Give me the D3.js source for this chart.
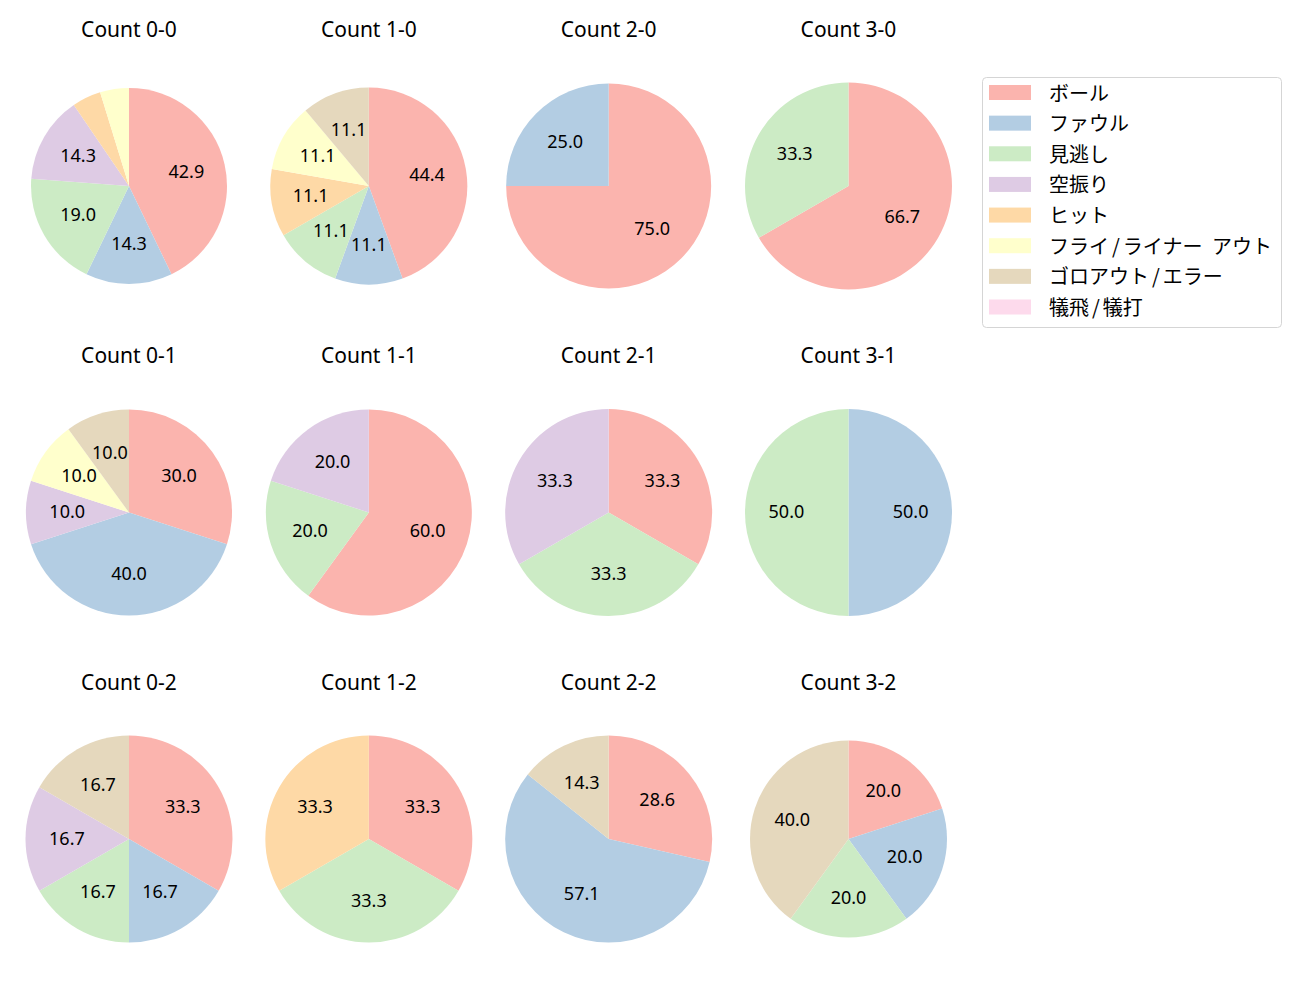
<!DOCTYPE html>
<html>
<head>
<meta charset="utf-8">
<script src="https://cdn.jsdelivr.net/npm/d3@7"></script>
<style>
  body { margin: 0; background: #fff; }
  text { fill: #000; }
</style>
</head>
<body>
<div id="chart"></div>
<script>
// pitch counts (balls-strikes), in panel order
var PANELS = ["0-0", "1-0", "2-0", "3-0", "0-1", "1-1", "2-1", "3-1", "0-2", "1-2", "2-2", "3-2"];

var CATEGORIES = [
  "ボール",
  "ファウル",
  "見逃し",
  "空振り",
  "ヒット",
  "フライ/ライナー アウト",
  "ゴロアウト/エラー",
  "犠飛/犠打",
];

// number of pitches per category, one value per panel
var BALL     = [9, 4, 3, 2, 3, 3, 1, 0, 2, 1, 2, 1];
var FOUL     = [3, 1, 1, 0, 4, 0, 0, 1, 1, 0, 4, 1];
var LOOKING  = [4, 1, 0, 1, 0, 1, 1, 1, 1, 1, 0, 1];
var SWINGING = [3, 0, 0, 0, 1, 1, 1, 0, 1, 0, 0, 0];
var HIT      = [1, 1, 0, 0, 0, 0, 0, 0, 0, 1, 0, 0];
var FLYOUT   = [1, 1, 0, 0, 1, 0, 0, 0, 0, 0, 0, 0];
var GROUNDER = [0, 1, 0, 0, 1, 0, 0, 0, 1, 0, 1, 2];
var SACRIFICE = [0, 0, 0, 0, 0, 0, 0, 0, 0, 0, 0, 0];

var SERIES = [BALL, FOUL, LOOKING, SWINGING, HIT, FLYOUT, GROUNDER, SACRIFICE];

var COLORS = ["#fbb4ae", "#b3cde3", "#ccebc5", "#decbe4", "#fed9a6", "#ffffcc", "#e5d8bd", "#fddaec"];

// layout
var width = 1300,
  height = 1000;
var colX = d3.scaleLinear().domain([0, 3]).range([129, 848.5]);
var rowY = d3.scaleLinear().domain([0, 2]).range([186, 839]);
// pie radius per panel (matplotlib shrinks some of them)
var RADII = [98, 98.5, 102.5, 103.5, 103, 103, 103.5, 103.5, 103.5, 103.5, 103.5, 98.5];

var color = d3.scaleOrdinal().domain(CATEGORIES).range(COLORS);

var svg = d3
  .select("#chart")
  .append("svg")
  .attr("width", width)
  .attr("height", height);

var pie = d3
  .pie()
  .sort(null)
  .value(function (d) {
    return d.value;
  });

PANELS.forEach(function (name, i) {
  var col = i % 4,
    row = Math.floor(i / 4);
  var cx = colX(col),
    cy = rowY(row),
    r = RADII[i];

  var data = CATEGORIES.map(function (c, k) {
    return { label: c, value: SERIES[k][i] };
  });
  var total = d3.sum(data, function (d) {
    return d.value;
  });

  var arc = d3.arc().innerRadius(0).outerRadius(r);
  var labelArc = d3.arc().innerRadius(r * 0.6).outerRadius(r * 0.6);

  var g = svg.append("g").attr("transform", "translate(" + cx + "," + cy + ")");

  var arcs = pie(data).filter(function (d) {
    return d.data.value > 0;
  });

  g.selectAll("path.slice")
    .data(arcs)
    .enter()
    .append("path")
    .attr("class", "slice")
    .attr("d", arc)
    .attr("fill", function (d) {
      return color(d.data.label);
    });

  /* ------- PERCENT LABELS -------*/
  g.selectAll("text.pct")
    .data(
      arcs.filter(function (d) {
        return (d.data.value / total) * 100 >= 5;
      })
    )
    .enter()
    .append("text")
    .attr("class", "pct")
    .attr("transform", function (d) {
      return "translate(" + labelArc.centroid(d) + ")";
    })
    .attr("dy", -1.5)
    .attr("text-anchor", "middle")
    .attr("dominant-baseline", "central")
    .style("font-family", "'Noto Sans', sans-serif")
    .style("font-size", "18px")
    .text(function (d) {
      return ((d.data.value / total) * 100).toFixed(1);
    });

  svg
    .append("text")
    .attr("x", cx)
    .attr("y", rowY(row) - 149.5)
    .attr("text-anchor", "middle")
    .style("font-family", "'Noto Sans', sans-serif")
    .style("font-size", "21px")
    .text("Count " + name);
});

/* ------- LEGEND -------*/
var legend = svg.append("g").attr("transform", "translate(982,77)");

legend
  .append("rect")
  .attr("x", 0.5)
  .attr("y", 0.5)
  .attr("width", 299)
  .attr("height", 250)
  .attr("rx", 4)
  .attr("fill", "#fff")
  .attr("stroke", "#d5d5d5");

var legendY = d3.scaleLinear().domain([0, CATEGORIES.length - 1]).range([15.5, 230]);

var item = legend
  .selectAll("g.item")
  .data(CATEGORIES)
  .enter()
  .append("g")
  .attr("class", "item")
  .attr("transform", function (d, i) {
    return "translate(0," + legendY(i) + ")";
  });

item
  .append("rect")
  .attr("x", 7)
  .attr("y", -7.5)
  .attr("width", 42)
  .attr("height", 15)
  .attr("fill", function (d) {
    return color(d);
  });

// wider slash and space, like the original font
var legendText = item
  .append("text")
  .attr("x", 67)
  .attr("y", -1)
  .attr("dominant-baseline", "central")
  .style("font-family", "'Noto Sans CJK JP', sans-serif")
  .style("font-size", "20px")
  .style("word-spacing", "5px");

legendText.each(function (d) {
  var t = d3.select(this);
  d.split("/").forEach(function (part, j) {
    if (j > 0) t.append("tspan").attr("dx", 3).text("/");
    t.append("tspan").attr("dx", j > 0 ? 3 : 0).text(part);
  });
});
</script>
</body>
</html>
